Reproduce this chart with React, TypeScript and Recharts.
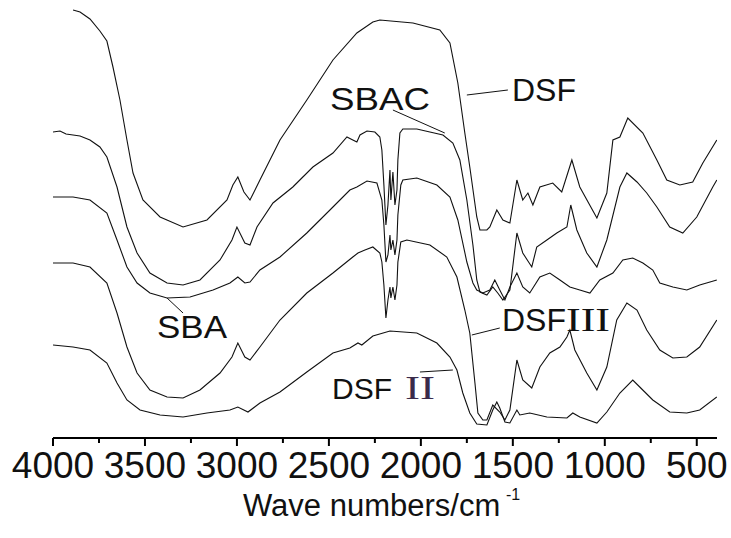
import React from 'react';
import { LineChart, Line, XAxis, YAxis, ReferenceLine } from 'recharts';

// DSF (top curve)
const dsfWn = [3891,3853,3799,3745,3707,3674,3636,3598,3565,3511,3418,3293,3163,3054,3022,2995,2962,2929,2875,2766,2620,2478,2348,2261,2223,2043,1897,1842,1799,1761,1734,1696,1679,1641,1625,1587,1554,1516,1478,1446,1418,1391,1353,1283,1234,1179,1136,1043,989,956,918,875,793,717,663,592,522,467,391];
const dsfT = [435,433,426,414,404,378,345,305,272,245,228,218,225,245,260,268,253,245,265,305,345,385,412,423,425,422,415,402,362,312,278,228,215,215,218,235,225,222,265,245,252,240,258,262,253,285,258,227,252,305,308,327,312,285,265,260,263,282,305];

// SBAC
const sbacWn = [4000,3962,3929,3891,3853,3799,3745,3707,3652,3598,3543,3473,3380,3293,3201,3092,3027,3000,2957,2929,2891,2804,2696,2587,2478,2402,2370,2348,2331,2293,2250,2223,2212,2201,2190,2179,2168,2163,2152,2141,2130,2125,2114,2098,2022,1951,1880,1826,1788,1750,1717,1696,1679,1641,1609,1582,1554,1516,1478,1446,1397,1370,1315,1261,1206,1185,1152,1098,1043,989,918,880,825,772,717,647,576,500,413,391];
const sbacT = [313,314,311,310,309,305,298,288,258,218,192,172,162,160,165,185,205,218,202,200,218,242,258,278,292,308,305,303,310,314,313,308,295,260,220,240,275,245,273,240,255,285,312,316,316,313,310,302,285,245,200,165,153,150,158,152,145,155,212,192,178,198,205,212,218,240,215,192,178,205,258,272,263,252,238,218,212,228,258,265];

// SBA
const sbaWn = [4000,3891,3799,3707,3652,3598,3543,3473,3380,3255,3130,3038,2995,2957,2929,2875,2766,2620,2478,2386,2348,2293,2239,2212,2201,2190,2179,2168,2163,2152,2141,2130,2125,2109,2098,2022,1913,1842,1799,1750,1717,1696,1663,1625,1598,1571,1543,1516,1478,1446,1408,1353,1299,1244,1190,1136,1081,1027,956,902,848,793,739,701,630,554,484,391];
const sbaT = [248,248,245,232,205,178,162,152,147,148,155,162,168,162,163,175,188,212,238,255,258,264,262,245,220,183,190,210,195,205,190,205,230,260,265,267,260,248,225,183,162,155,152,155,165,155,145,158,172,158,152,168,172,165,158,155,152,165,172,185,187,182,175,162,158,155,160,165];

// DSF III
const dsf3Wn = [4000,3891,3799,3707,3652,3598,3543,3473,3380,3293,3201,3092,3027,2995,2957,2929,2875,2766,2620,2478,2370,2342,2304,2261,2223,2212,2201,2190,2179,2168,2163,2152,2141,2130,2125,2109,2076,1951,1859,1804,1761,1734,1706,1690,1663,1641,1609,1571,1543,1516,1478,1446,1397,1353,1299,1244,1206,1190,1163,1098,1043,989,935,880,825,772,701,630,554,484,391];
const dsf3T = [182,182,178,162,132,98,72,55,48,47,55,72,88,102,88,85,98,125,152,172,188,192,195,198,192,183,160,127,145,158,147,158,145,160,183,203,205,200,188,168,135,112,62,32,25,25,40,33,25,35,85,65,57,78,92,98,108,115,95,72,55,78,125,142,135,115,95,87,88,98,125];

// DSF II (bottom curve)
const dsf2Wn = [4000,3891,3799,3707,3652,3598,3527,3418,3293,3163,3038,2995,2940,2875,2766,2620,2478,2386,2342,2321,2261,2168,2022,1913,1842,1804,1772,1734,1696,1641,1609,1587,1571,1543,1516,1478,1462,1408,1315,1206,1174,1136,1043,989,918,848,810,739,647,554,484,391];
const dsf2T = [100,98,95,82,62,45,35,30,28,32,35,38,33,42,53,73,92,97,102,100,109,114,112,102,88,75,52,32,21,20,35,43,37,23,22,35,30,32,28,27,32,28,22,33,52,65,58,45,33,32,35,48];

const xTicks = [4000,3750,3500,3250,3000,2750,2500,2250,2000,1750,1500,1250,1000,750,500];

const toPts = (w: number[], t: number[]) => w.map((x, i) => ({ x, y: t[i] }));

const series = [
  { name: 'DSF', data: toPts(dsfWn, dsfT) },
  { name: 'SBAC', data: toPts(sbacWn, sbacT) },
  { name: 'SBA', data: toPts(sbaWn, sbaT) },
  { name: 'DSFIII', data: toPts(dsf3Wn, dsf3T) },
  { name: 'DSFII', data: toPts(dsf2Wn, dsf2T) },
];

const leaders = [
  [{ x: 1750, y: 350 }, { x: 1527, y: 355 }],
  [{ x: 2152, y: 335 }, { x: 1870, y: 312 }],
  [{ x: 3380, y: 147 }, { x: 3293, y: 132 }],
  [{ x: 1723, y: 110 }, { x: 1571, y: 117 }],
  [{ x: 2005, y: 73 }, { x: 1826, y: 75 }],
];

const SANS = 'Liberation Sans, Arial, sans-serif';
const SERIF = 'Liberation Serif, Times New Roman, serif';

const Tick = (props: any) => {
  const { x, y, payload } = props;
  const v = payload.value as number;
  const major = v % 500 === 0;
  const s = String(v);
  return (
    <g>
      <line x1={x} x2={x} y1={y} y2={y + (major ? 8 : 5)} stroke="#000" strokeWidth={2} />
      {major && (
        <text x={x} y={y + 40} textAnchor="middle" fontFamily={SANS} fontSize={37} fill="#111">{s}</text>
      )}
    </g>
  );
};

export default function App() {
  return (
    <div style={{ position: 'absolute', left: 0, top: 0, width: 731, height: 538, background: '#fff' }}>
      <LineChart width={731} height={538} margin={{ top: 8, right: 14, bottom: 0, left: 53 }}>
        <XAxis dataKey="x" type="number" domain={[390, 4000]} reversed ticks={xTicks} interval={0}
          height={100} tickSize={0} tickMargin={0} tickLine={false} tick={<Tick />}
          axisLine={{ stroke: '#000', strokeWidth: 2 }} allowDataOverflow />
        <YAxis type="number" domain={[7, 437]} width={0} tick={false} tickLine={false}
          axisLine={{ stroke: '#000', strokeWidth: 2 }} allowDataOverflow />
        {series.map((s) => (
          <Line key={s.name} data={s.data} dataKey="y" type="linear" stroke="#111" strokeWidth={1.1}
            dot={false} isAnimationActive={false} />
        ))}
        {leaders.map((seg, i) => (
          <ReferenceLine key={i} segment={seg} stroke="#111" strokeWidth={1} ifOverflow="visible" />
        ))}
      </LineChart>
      <svg width={731} height={538} style={{ position: 'absolute', left: 0, top: 0, pointerEvents: 'none' }}>
        <g fontFamily={SANS} fill="#111">
          <text x={512} y={101} fontSize={32}>DSF</text>
          <text x={330} y={110} fontSize={32} textLength={100} lengthAdjust="spacingAndGlyphs">SBAC</text>
          <text x={157} y={338} fontSize={32} textLength={70} lengthAdjust="spacingAndGlyphs">SBA</text>
          <text x={502} y={331} fontSize={32}>DSF</text>
          <text x={566} y={331} fontSize={34} fontFamily={SERIF} textLength={44} lengthAdjust="spacingAndGlyphs">III</text>
          <text x={332} y={399} fontSize={30}>DSF</text>
          <text x={405} y={399} fontSize={34} fontFamily={SERIF} fill="#3a2a4a" textLength={30} lengthAdjust="spacingAndGlyphs">II</text>
          <text x={243} y={516} fontSize={31}>Wave numbers/cm</text>
          <text x={506} y={500} fontSize={16}>-1</text>
        </g>
      </svg>
    </div>
  );
}
